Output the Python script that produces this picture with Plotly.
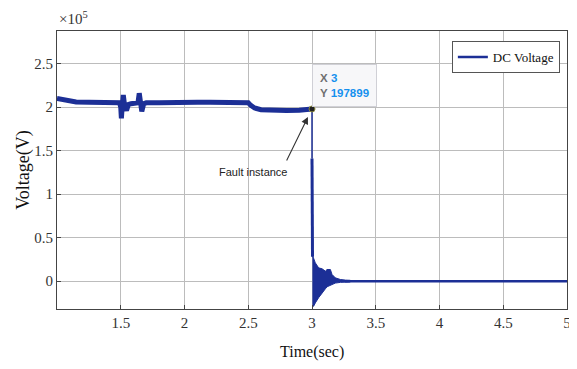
import plotly.graph_objects as go

# ---- data (voltage in units of 1e5 V, time in s) ----
pre_t = [1.00, 1.03, 1.08, 1.15, 1.25, 1.35, 1.45, 1.49, 1.50, 1.505, 1.51, 1.52, 1.53, 1.545,
         1.56, 1.58, 1.62, 1.635, 1.645, 1.655, 1.665, 1.68, 1.70, 1.80, 1.90, 2.00, 2.10, 2.20,
         2.30, 2.40, 2.50, 2.52, 2.55, 2.60, 2.70, 2.80, 2.90, 2.95, 3.00]
pre_v = [2.10, 2.09, 2.075, 2.06, 2.055, 2.05, 2.05, 2.05, 2.00, 1.87, 1.98, 2.14, 2.02, 1.96,
         2.03, 2.04, 2.045, 2.05, 2.16, 2.04, 1.95, 2.04, 2.05, 2.05, 2.055, 2.055, 2.055, 2.055,
         2.055, 2.055, 2.05, 2.02, 1.99, 1.97, 1.96, 1.96, 1.965, 1.97, 1.979]

drop_thin_t = [3.000, 3.000]
drop_thin_v = [1.979, 1.41]
drop_thick_t = [3.000, 3.004]
drop_thick_v = [1.41, 0.28]

ring_t = [3.003, 3.013, 3.026, 3.052, 3.079, 3.105, 3.118, 3.144, 3.157, 3.183, 3.223, 3.262, 3.30]
ring_up = [0.30, 0.268, 0.21, 0.153, 0.142, 0.115, 0.134, 0.134, 0.077, 0.038, 0.019, 0.012, 0.010]
ring_lo = [-0.295, -0.287, -0.25, -0.19, -0.134, -0.088, -0.065, -0.045, -0.038, -0.022, -0.014, -0.011, -0.010]

post_t = [3.26, 3.50, 4.00, 4.50, 5.00]
post_v = [0.0, 0.0, 0.0, 0.0, 0.0]

fault_t = 3
fault_v = 197899

y_ticks = [0, 0.5, 1, 1.5, 2, 2.5]
y_ticktext = ["0", "0.5", "1", "1.5", "2", "2.5"]
x_ticks = [1.5, 2, 2.5, 3, 3.5, 4, 4.5, 5]
x_ticktext = ["1.5", "2", "2.5", "3", "3.5", "4", "4.5", "5"]

BLUE = "#1c2f96"
SERIF = "Liberation Serif, Times New Roman, serif"
SANS = "Liberation Sans, Arial, sans-serif"

fig = go.Figure()

fig.add_trace(go.Scatter(x=ring_t + ring_t[::-1], y=ring_up + ring_lo[::-1], fill="toself",
                         fillcolor=BLUE, line=dict(color=BLUE, width=1), mode="lines",
                         showlegend=False, hoverinfo="skip"))
fig.add_trace(go.Scatter(x=pre_t, y=pre_v, mode="lines", line=dict(color=BLUE, width=5),
                         showlegend=False))
fig.add_trace(go.Scatter(x=drop_thin_t, y=drop_thin_v, mode="lines", line=dict(color=BLUE, width=1.5),
                         showlegend=False))
fig.add_trace(go.Scatter(x=drop_thick_t, y=drop_thick_v, mode="lines", line=dict(color=BLUE, width=3),
                         showlegend=False))
fig.add_trace(go.Scatter(x=post_t, y=post_v, mode="lines", line=dict(color=BLUE, width=2.5),
                         showlegend=False))
# legend entry
fig.add_trace(go.Scatter(x=[None], y=[None], mode="lines", line=dict(color=BLUE, width=2.5),
                         name="DC Voltage", showlegend=True))
fig.add_trace(go.Scatter(x=[fault_t], y=[fault_v / 1e5], mode="markers",
                         marker=dict(color="#222222", size=6, line=dict(color="#8a8a40", width=1)),
                         showlegend=False))

# data tip box
fig.add_annotation(x=fault_t, y=fault_v / 1e5, xref="x", yref="y", xanchor="left", yanchor="bottom",
                   text=("<b><span style='color:#707070'>X</span> <span style='color:#1590ee'>3</span><br>"
                         "<span style='color:#707070'>Y</span> <span style='color:#1590ee'>%d</span></b>" % fault_v),
                   showarrow=False, align="left", bgcolor="#f7f7f9", bordercolor="#d0d0d6",
                   borderwidth=1, borderpad=7, yshift=2,
                   font=dict(family=SANS, size=11.5, color="#1590ee"))

# fault instance arrow + text
fig.add_annotation(x=2.968, y=1.887, xref="x", yref="y", ax=-22, ay=45, axref="pixel", ayref="pixel",
                   text="", showarrow=True, arrowhead=2, arrowsize=1.3, arrowwidth=1.1, arrowcolor="#333333")
fig.add_annotation(x=2.537, y=1.255, xref="x", yref="y", text="Fault instance", showarrow=False,
                   font=dict(family=SANS, size=11, color="#222222"))

# exponent label
fig.add_annotation(x=0.0, y=1.0, xref="paper", yref="paper", xanchor="left", yanchor="bottom",
                   text="\u00d710<sup>5</sup>", showarrow=False, yshift=2, xshift=0,
                   font=dict(family=SERIF, size=15, color="#333333"))

# axis titles
fig.add_annotation(x=-0.067, y=0.5, xref="paper", yref="paper", xanchor="center", yanchor="middle",
                   text="Voltage(V)", textangle=-90, showarrow=False,
                   font=dict(family=SERIF, size=18, color="#111111"))
fig.add_annotation(x=0.5, y=-0.155, xref="paper", yref="paper", xanchor="center", yanchor="middle",
                   text="Time(sec)", showarrow=False,
                   font=dict(family=SERIF, size=16, color="#111111"))

# the page body adds an 8 px offset, so the figure is 8 px smaller and margins shifted
fig.update_layout(
    width=569, height=361,
    margin=dict(l=49, r=10, t=23, b=60),
    paper_bgcolor="white", plot_bgcolor="white",
    font=dict(family=SERIF, color="#222222"),
    legend=dict(x=0.986, y=0.964, xanchor="right", yanchor="top", bgcolor="white",
                bordercolor="#555555", borderwidth=1, font=dict(family=SERIF, size=13, color="#111111"),
                itemwidth=30, tracegroupgap=0),
    showlegend=True,
)
fig.update_xaxes(range=[1, 5], tickvals=x_ticks, ticktext=x_ticktext, showgrid=True,
                 gridcolor="#bcbcbc", gridwidth=1, showline=True, linecolor="#444444", linewidth=1,
                 mirror=True, ticks="inside", ticklen=4, tickcolor="#444444", automargin=False,
                 tickfont=dict(family=SERIF, size=15, color="#333333"), zeroline=False)
fig.update_yaxes(range=[-0.32, 2.875], tickvals=y_ticks, ticktext=y_ticktext, showgrid=True,
                 gridcolor="#bcbcbc", gridwidth=1, showline=True, linecolor="#444444", linewidth=1,
                 mirror=True, ticks="inside", ticklen=4, tickcolor="#444444", automargin=False,
                 tickfont=dict(family=SERIF, size=15, color="#333333"), zeroline=False)

fig.write_html("out.html")
